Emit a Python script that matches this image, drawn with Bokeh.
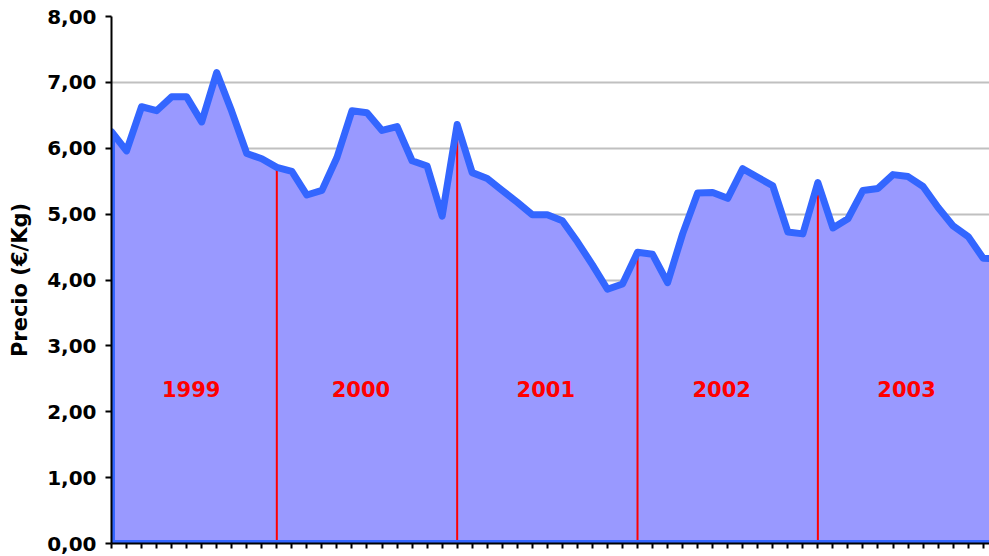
from bokeh.plotting import figure
from bokeh.models import Range1d, FixedTicker
from bokeh.core.properties import value
from bokeh.embed import file_html
from bokeh.resources import INLINE

# Monthly index (Jan 1999 = 0)
months = list(range(60))
prices = [6.25, 5.96, 6.63, 6.57, 6.78, 6.78, 6.40, 7.15, 6.56, 5.92, 5.84, 5.71,
          5.65, 5.29, 5.36, 5.86, 6.57, 6.54, 6.27, 6.33, 5.81, 5.73, 4.97, 6.36,
          5.63, 5.54, 5.36, 5.18, 4.99, 4.99, 4.90, 4.58, 4.23, 3.86, 3.94, 4.42,
          4.39, 3.96, 4.70, 5.32, 5.33, 5.24, 5.69, 5.56, 5.43, 4.73, 4.70, 5.48,
          4.79, 4.93, 5.36, 5.39, 5.60, 5.57, 5.42, 5.10, 4.82, 4.66, 4.33, 4.32]
year_end_idx = [11, 23, 35, 47]
year_labels = ["1999", "2000", "2001", "2002", "2003"]
year_label_x = [5.3, 16.6, 28.9, 40.6, 52.9]
year_label_y = [2.34, 2.34, 2.34, 2.34, 2.34]
y_ticks = [0, 1, 2, 3, 4, 5, 6, 7, 8]
y_tick_labels = ["0,00", "1,00", "2,00", "3,00", "4,00", "5,00", "6,00", "7,00", "8,00"]

FONT = "DejaVu Sans"

p = figure(width=989, height=556, output_backend="svg", toolbar_location=None,
           x_range=Range1d(0, 58.42), y_range=Range1d(0, 8),
           min_border_left=111, min_border_right=0, min_border_top=16, min_border_bottom=13)
p.outline_line_color = None
p.background_fill_color = "white"

# area fill
xs = [months[0]] + months + [months[-1]]
ys = [0] + prices + [0]
p.patch(xs, ys, fill_color="#9999FF", line_color=None)

# red year separators
p.segment(x0=year_end_idx, y0=[0] * len(year_end_idx), x1=year_end_idx,
          y1=[prices[i] for i in year_end_idx], line_color="#FF0000", line_width=2)

# outline of area
p.patch(xs, ys, fill_color=None, line_color="#3366FF", line_width=7, line_join="round")

# year labels
p.text(x=year_label_x, y=year_label_y, text=year_labels, text_color="#FF0000",
       text_font=value(FONT), text_font_style="bold", text_font_size="21px",
       text_align="center", text_baseline="middle")

# grid
p.xgrid.grid_line_color = None
p.ygrid.ticker = FixedTicker(ticks=y_ticks[1:])
p.ygrid.grid_line_color = "#C0C0C0"
p.ygrid.grid_line_width = 2

# y axis
p.yaxis.ticker = FixedTicker(ticks=y_ticks)
p.yaxis.major_label_overrides = {t: l for t, l in zip(y_ticks, y_tick_labels)}
p.yaxis.major_label_text_font = FONT
p.yaxis.major_label_text_font_style = "bold"
p.yaxis.major_label_text_font_size = "20px"
p.yaxis.major_label_text_color = "black"
p.yaxis.major_label_standoff = 9
p.yaxis.major_tick_out = 6
p.yaxis.major_tick_in = 0
p.yaxis.major_tick_line_width = 2
p.yaxis.minor_tick_line_color = None
p.yaxis.axis_line_width = 2
p.yaxis.axis_line_color = "black"
p.yaxis.axis_label = "Precio (€/Kg)"
p.yaxis.axis_label_text_font = FONT
p.yaxis.axis_label_text_font_style = "bold"
p.yaxis.axis_label_text_font_size = "21px"
p.yaxis.axis_label_text_color = "black"
p.yaxis.axis_label_standoff = 12

# x axis: ticks only (labels hidden)
p.xaxis.ticker = FixedTicker(ticks=months)
p.xaxis.major_label_text_font_size = "1px"
p.xaxis.major_label_text_alpha = 0
p.xaxis.major_label_standoff = 0
p.xaxis.major_tick_out = 5
p.xaxis.major_tick_in = 0
p.xaxis.major_tick_line_width = 2
p.xaxis.minor_tick_line_color = None
p.xaxis.axis_line_width = 2
p.xaxis.axis_line_color = "black"

open("out.html", "w").write(file_html(p, INLINE))
